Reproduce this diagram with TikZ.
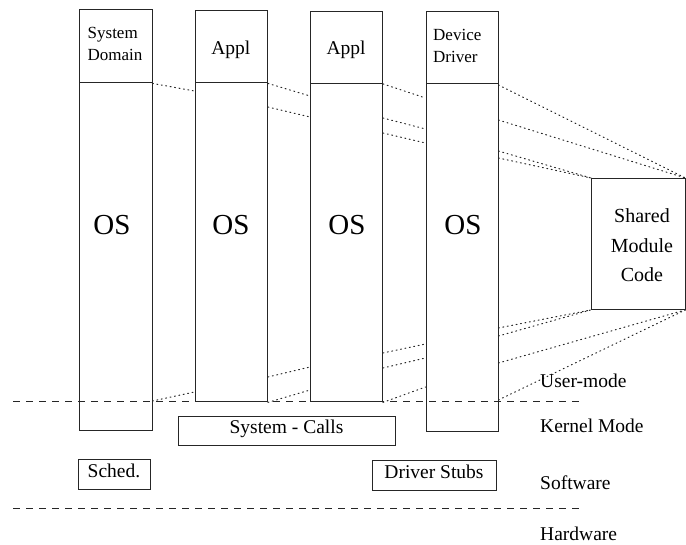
\documentclass[tikz,border=0pt]{standalone}
\usepackage{fontspec}
\setmainfont{Liberation Serif}
\usetikzlibrary{calc}
\begin{document}
\begin{tikzpicture}[x=1pt,y=-1pt,
  frame/.style={draw=black!85, line width=0.9pt, inner sep=0pt},
  colbox/.style={frame, anchor=north west},
  dotline/.style={draw=black!85, line width=1pt, dash pattern=on 1pt off 3.5pt, line cap=round},
  divider/.style={draw=black!85, line width=0.9pt, dash pattern=on 7pt off 6pt},
  oslabel/.style={font=\fontsize{29}{32}\selectfont, inner sep=0pt, text height=0.66em, text depth=0pt},
  hdrtwo/.style={font=\fontsize{17}{21.5}\selectfont, align=left, inner sep=0pt, anchor=north west},
  hdrone/.style={font=\fontsize{19.5}{22}\selectfont, inner sep=0pt, anchor=base},
  tagbox/.style={frame, font=\fontsize{19.5}{22}\selectfont, text height=0.66em, text depth=0pt},
  sidelabel/.style={font=\fontsize{19.5}{22}\selectfont, inner sep=0pt, anchor=base west}]
\useasboundingbox (0,0) rectangle (686,545);

% four address-space columns: header on top, OS body below
\node[colbox, minimum width=73pt, minimum height=73pt] (h1) at (78.5,9.5) {};
\node[colbox, minimum width=73pt, minimum height=347.5pt] (b1) at (78.5,82.5) {};
\node[colbox, minimum width=72.5pt, minimum height=72.5pt] (h2) at (194.5,10) {};
\node[colbox, minimum width=72.5pt, minimum height=319pt] (b2) at (194.5,82.5) {};
\node[colbox, minimum width=72pt, minimum height=72pt] (h3) at (310,11) {};
\node[colbox, minimum width=72pt, minimum height=318.5pt] (b3) at (310,83) {};
\node[colbox, minimum width=72pt, minimum height=72.5pt] (h4) at (425.5,11) {};
\node[colbox, minimum width=72pt, minimum height=348pt] (b4) at (425.5,83.5) {};

% header texts
\node[hdrtwo] (t1) at (87.5,27.5) {System\\Domain};
\node[hdrone] (t2) at (230.75,54.5) {Appl};
\node[hdrone] (t3) at (346,55) {Appl};
\node[hdrtwo] (t4) at (433,29.5) {Device\\Driver};

% OS labels
\node[oslabel] (os1) at (112,231) {OS};
\node[oslabel] (os2) at (231,231) {OS};
\node[oslabel] (os3) at (347,231) {OS};
\node[oslabel] (os4) at (463,231) {OS};

% shared module
\node[frame, anchor=north west, minimum width=93.5pt, minimum height=131pt] (sm) at (591,178) {};
\node[font=\fontsize{20}{29.5}\selectfont, align=center, inner sep=0pt] (smt) at (642,245.5) {Shared\\Module\\Code};

% mapping of the shared module into each address space (upper edge)
\draw[dotline] (h1.south east) -- (b2.west |- 0,91);
\draw[dotline] (h2.south east) -- (b3.west |- 0,96);
\draw[dotline] (b2.east |- 0,107) -- (b3.west |- 0,117);
\draw[dotline] (h3.south east) -- (b4.west |- 0,98);
\draw[dotline] (b3.east |- 0,118) -- (b4.west |- 0,129);
\draw[dotline] (b3.east |- 0,133) -- (b4.west |- 0,143);
\draw[dotline] (b4.east |- 0,85) -- (sm.north east);
\draw[dotline] (b4.east |- 0,120) -- (sm.north east);
\draw[dotline] (b4.east |- 0,151) -- (sm.north west);
\draw[dotline] (b4.east |- 0,158) -- (sm.north west);

% lower edge
\draw[dotline] (b1.east |- 0,401) -- (b2.west |- 0,392);
\draw[dotline] (b2.east |- 0,377) -- (b3.west |- 0,367);
\draw[dotline] (b2.south east) -- (b3.west |- 0,390);
\draw[dotline] (b3.east |- 0,353) -- (b4.west |- 0,344);
\draw[dotline] (b3.east |- 0,368) -- (b4.west |- 0,358);
\draw[dotline] (b3.south east) -- (b4.west |- 0,387);
\draw[dotline] (b4.east |- 0,328) -- (sm.south west);
\draw[dotline] (b4.east |- 0,336) -- (sm.south west);
\draw[dotline] (b4.east |- 0,363) -- (sm.south east);
\draw[dotline] (b4.east |- 0,400) -- (sm.south east);

% kernel components
\node[tagbox, minimum width=217pt, minimum height=29pt] (calls) at (286.5,430.5) {System - Calls};
\node[tagbox, minimum width=72pt, minimum height=30pt] (sched) at (114,474) {Sched.};
\node[tagbox, minimum width=124pt, minimum height=30pt] (stubs) at (434,475) {Driver Stubs};

% mode boundaries
\coordinate (ukL) at (13,401.5);
\coordinate (ukR) at (583,401.5);
\coordinate (shL) at (13,508.5);
\coordinate (shR) at (583,508.5);
\draw[divider] (ukL) -- (ukR);
\draw[divider] (shL) -- (shR);

% layer names
\node[sidelabel] (lu) at (540,388) {User-mode};
\node[sidelabel] (lk) at (540,433) {Kernel Mode};
\node[sidelabel] (ls) at (540,489.5) {Software};
\node[sidelabel] (lh) at (540,540) {Hardware};
\end{tikzpicture}
\end{document}
